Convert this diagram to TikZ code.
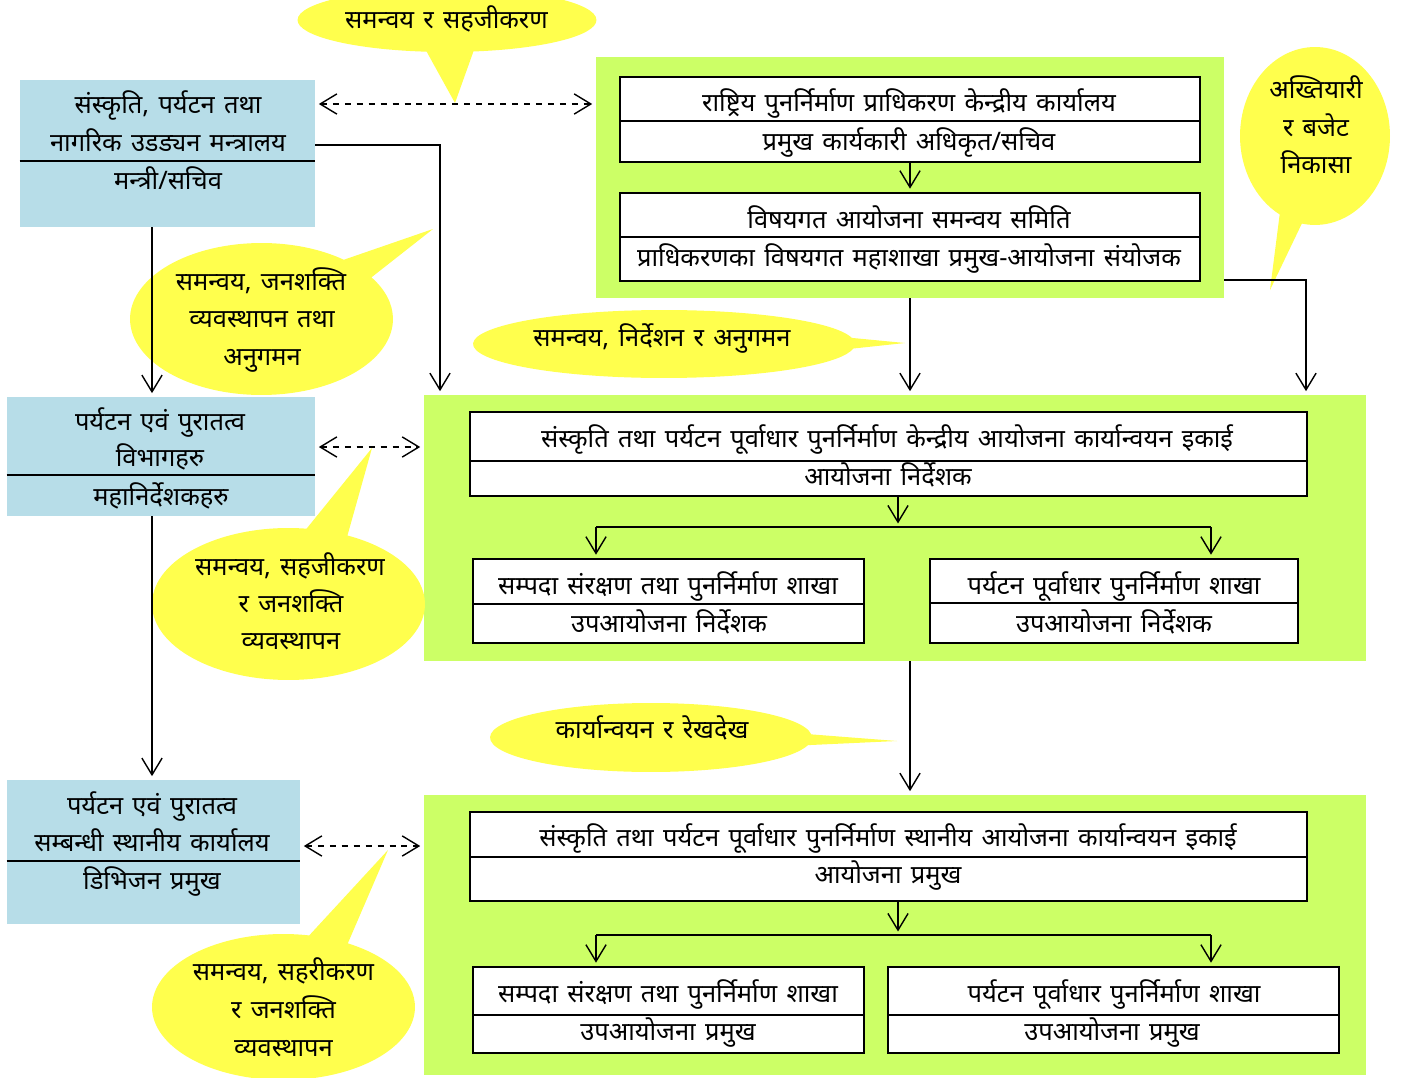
\documentclass[tikz,border=0pt]{standalone}
\usepackage{fontspec}
\newfontfamily\devfont[Script=Devanagari,WordSpace=1.4]{Noto Sans}
\usetikzlibrary{shapes}
\usetikzlibrary{positioning}
\usetikzlibrary{arrows.meta}
\definecolor{orgblue}{RGB}{183,221,232}
\definecolor{orggreen}{RGB}{204,255,102}
\definecolor{noteyellow}{RGB}{255,255,77}
\tikzset{
    bluebox/.style = {rectangle, fill=orgblue, inner sep=0pt},
    greenbox/.style = {rectangle, fill=orggreen, inner sep=0pt},
    cell/.style = {rectangle, draw=black, line width=0.9pt, fill=white, inner sep=0pt},
    note/.style = {ellipse callout, fill=noteyellow, inner sep=0pt, callout pointer arc=18},
    txt/.style = {inner sep=0pt, text height=1.0em, text depth=0pt, font=\devfont\fontsize{14.5}{16}\selectfont},
    divline/.style = {line width=0.9pt},
    edgen/.style = {-{Straight Barb[length=9.5pt,width=11.5pt]}, line width=0.8pt, shorten >=2pt},
    edgedd/.style = {{Straight Barb[length=9.5pt,width=11.5pt]}-{Straight Barb[length=9.5pt,width=11.5pt]}, line width=0.8pt, dash pattern=on 3.4pt off 3.4pt, shorten <=2pt, shorten >=2pt}
}

\begin{document}
\begin{tikzpicture}[x=0.02cm, y=-0.02cm]
  \useasboundingbox (0,0) rectangle (1410,1078);

  % containers
  \node[greenbox, minimum width=12.56cm, minimum height=4.82cm] (nra) at (910,177.5) {};
  \node[greenbox, minimum width=18.84cm, minimum height=5.32cm] (piu) at (895,528) {};
  \node[greenbox, minimum width=18.84cm, minimum height=5.6cm] (liu) at (895,935) {};
  \node[bluebox, minimum width=5.9cm, minimum height=2.94cm] (mot) at (167.5,153.5) {};
  \node[bluebox, minimum width=6.16cm, minimum height=2.38cm] (dep) at (161,456.5) {};
  \node[bluebox, minimum width=5.86cm, minimum height=2.88cm] (loc) at (153.5,852) {};

  % cells
  \node[cell, minimum width=11.6cm, minimum height=1.7cm] (nrac) at (910,119.5) {};
  \node[cell, minimum width=11.6cm, minimum height=1.76cm] (nrab) at (910,237) {};
  \node[cell, minimum width=16.74cm, minimum height=1.68cm] (piuc) at (888.5,454) {};
  \node[cell, minimum width=7.82cm, minimum height=1.68cm] (piul) at (668.5,601) {};
  \node[cell, minimum width=7.36cm, minimum height=1.68cm] (piur) at (1114,601) {};
  \node[cell, minimum width=16.74cm, minimum height=1.78cm] (liuc) at (888.5,856.5) {};
  \node[cell, minimum width=7.82cm, minimum height=1.72cm] (liul) at (668.5,1010) {};
  \node[cell, minimum width=9.02cm, minimum height=1.72cm] (liur) at (1113.5,1010) {};

  % dividers
  \draw[divline] (mot.west |- 0,161) -- (mot.east |- 0,161);
  \draw[divline] (dep.west |- 0,475) -- (dep.east |- 0,475);
  \draw[divline] (loc.west |- 0,861) -- (loc.east |- 0,861);
  \draw[divline] (nrac.west |- 0,121) -- (nrac.east |- 0,121);
  \draw[divline] (nrab.west |- 0,237) -- (nrab.east |- 0,237);
  \draw[divline] (piuc.west |- 0,461) -- (piuc.east |- 0,461);
  \draw[divline] (piul.west |- 0,604) -- (piul.east |- 0,604);
  \draw[divline] (piur.west |- 0,603) -- (piur.east |- 0,603);
  \draw[divline] (liuc.west |- 0,857) -- (liuc.east |- 0,857);
  \draw[divline] (liul.west |- 0,1015) -- (liul.east |- 0,1015);
  \draw[divline] (liur.west |- 0,1015) -- (liur.east |- 0,1015);

  % callouts
  \node[note, minimum width=5.98cm, minimum height=1.28cm, callout absolute pointer={(455,103)}] (cb0) at (447,20) {};
  \node[note, minimum width=3cm, minimum height=3.56cm, callout absolute pointer={(1270,290)}] (cb2) at (1315,136) {};
  \node[note, minimum width=7.64cm, minimum height=1.36cm, callout absolute pointer={(905,343)}] (cb3) at (664,344) {};
  \node[note, minimum width=5.26cm, minimum height=3.04cm, callout absolute pointer={(433,229)}] (cb1) at (261.5,319) {};
  \node[note, minimum width=5.46cm, minimum height=3.04cm, callout absolute pointer={(372,448)}] (cb4) at (288.5,604) {};
  \node[note, minimum width=6.44cm, minimum height=1.38cm, callout absolute pointer={(897,741)}] (cb5) at (651,737.5) {};
  \node[note, minimum width=5.26cm, minimum height=2.92cm, callout absolute pointer={(388,850)}] (cb6) at (283.5,1007) {};

  % texts
  \node[txt] (mot1) at (168,105) {संस्कृति, पर्यटन तथा};
  \node[txt] (mot2) at (168,143) {नागरिक उडड्यन मन्त्रालय};
  \node[txt] (mot3) at (168,181) {मन्त्री/सचिव};
  \node[txt] (dep1) at (160,422) {पर्यटन एवं पुरातत्व};
  \node[txt] (dep2) at (160,458) {विभागहरु};
  \node[txt] (dep3) at (161,497) {महानिर्देशकहरु};
  \node[txt] (loc1) at (152,806) {पर्यटन एवं पुरातत्व};
  \node[txt] (loc2) at (152,843) {सम्बन्धी स्थानीय कार्यालय};
  \node[txt] (loc3) at (152,881) {डिभिजन प्रमुख};
  \node[txt] (nrac1) at (909,103) {राष्ट्रिय पुनर्निर्माण प्राधिकरण केन्द्रीय कार्यालय};
  \node[txt] (nrac2) at (909,142) {प्रमुख कार्यकारी अधिकृत/सचिव};
  \node[txt] (nrab1) at (909,220) {विषयगत आयोजना समन्वय समिति};
  \node[txt] (nrab2) at (909,258) {प्राधिकरणका विषयगत महाशाखा प्रमुख-आयोजना संयोजक};
  \node[txt] (piuc1) at (887,439) {संस्कृति तथा पर्यटन पूर्वाधार पुनर्निर्माण केन्द्रीय आयोजना कार्यान्वयन इकाई};
  \node[txt] (piuc2) at (888,477) {आयोजना निर्देशक};
  \node[txt] (piul1) at (668,586) {सम्पदा संरक्षण तथा पुनर्निर्माण शाखा};
  \node[txt] (piul2) at (669,624) {उपआयोजना निर्देशक};
  \node[txt] (piur1) at (1114,586) {पर्यटन पूर्वाधार पुनर्निर्माण शाखा};
  \node[txt] (piur2) at (1114,624) {उपआयोजना निर्देशक};
  \node[txt] (liuc1) at (888,838) {संस्कृति तथा पर्यटन पूर्वाधार पुनर्निर्माण स्थानीय आयोजना कार्यान्वयन इकाई};
  \node[txt] (liuc2) at (888,875) {आयोजना प्रमुख};
  \node[txt] (liul1) at (668,994) {सम्पदा संरक्षण तथा पुनर्निर्माण शाखा};
  \node[txt] (liul2) at (668,1032) {उपआयोजना प्रमुख};
  \node[txt] (liur1) at (1114,994) {पर्यटन पूर्वाधार पुनर्निर्माण शाखा};
  \node[txt] (liur2) at (1112,1032) {उपआयोजना प्रमुख};
  \node[txt] (cb0t) at (446.5,20) {समन्वय र सहजीकरण};
  \node[txt] (cb2a) at (1316,90) {अख्तियारी};
  \node[txt] (cb2b) at (1316,128) {र बजेट};
  \node[txt] (cb2c) at (1316,165) {निकासा};
  \node[txt] (cb3t) at (662,338) {समन्वय, निर्देशन र अनुगमन};
  \node[txt] (cb1a) at (261,282) {समन्वय, जनशक्ति};
  \node[txt] (cb1b) at (262,319) {व्यवस्थापन तथा};
  \node[txt] (cb1c) at (262,357) {अनुगमन};
  \node[txt] (cb4a) at (290,567) {समन्वय, सहजीकरण};
  \node[txt] (cb4b) at (291,604) {र जनशक्ति};
  \node[txt] (cb4c) at (291,641) {व्यवस्थापन};
  \node[txt] (cb5t) at (652,730) {कार्यान्वयन र रेखदेख};
  \node[txt] (cb6a) at (283.5,972) {समन्वय, सहरीकरण};
  \node[txt] (cb6b) at (283.5,1010) {र जनशक्ति};
  \node[txt] (cb6c) at (283.5,1048) {व्यवस्थापन};

  % connectors
  \coordinate (mj) at (440,145);
  \coordinate (rj) at (1306,280);
  \coordinate (lj) at (152,0);
  \coordinate (ps) at (898,527);
  \coordinate (psl) at (596,527);
  \coordinate (psr) at (1211,527);
  \coordinate (ls) at (898,935);
  \coordinate (lsl) at (596,935);
  \coordinate (lsr) at (1211,935);

  \draw[edgedd] (mot.east |- 0,104) -- (nra.west |- 0,104);
  \draw[edgedd] (dep.east |- 0,447) -- (piu.west |- 0,447);
  \draw[edgedd] (loc.east |- 0,846) -- (liu.west |- 0,846);
  \draw[edgen] (mot.east |- mj) -- (mj) -- (mj |- piu.north);
  \draw[edgen] (nra.east |- rj) -- (rj) -- (rj |- piu.north);
  \draw[edgen] (nra.south) -- (nra.south |- piu.north);
  \draw[edgen] (piu.south -| nra.south) -- (liu.north -| nra.south);
  \draw[edgen] (mot.south -| lj) -- (dep.north -| lj);
  \draw[edgen] (dep.south -| lj) -- (loc.north -| lj);
  \draw[edgen] (nrac.south) -- (nrab.north);

  \draw[edgen] (piuc.south -| ps) -- (ps);
  \draw[divline] (psl) -- (psr);
  \draw[edgen] (psl) -- (psl |- piul.north);
  \draw[edgen] (psr) -- (psr |- piur.north);

  \draw[edgen] (liuc.south -| ls) -- (ls);
  \draw[divline] (lsl) -- (lsr);
  \draw[edgen] (lsl) -- (lsl |- liul.north);
  \draw[edgen] (lsr) -- (lsr |- liur.north);
\end{tikzpicture}
\end{document}
